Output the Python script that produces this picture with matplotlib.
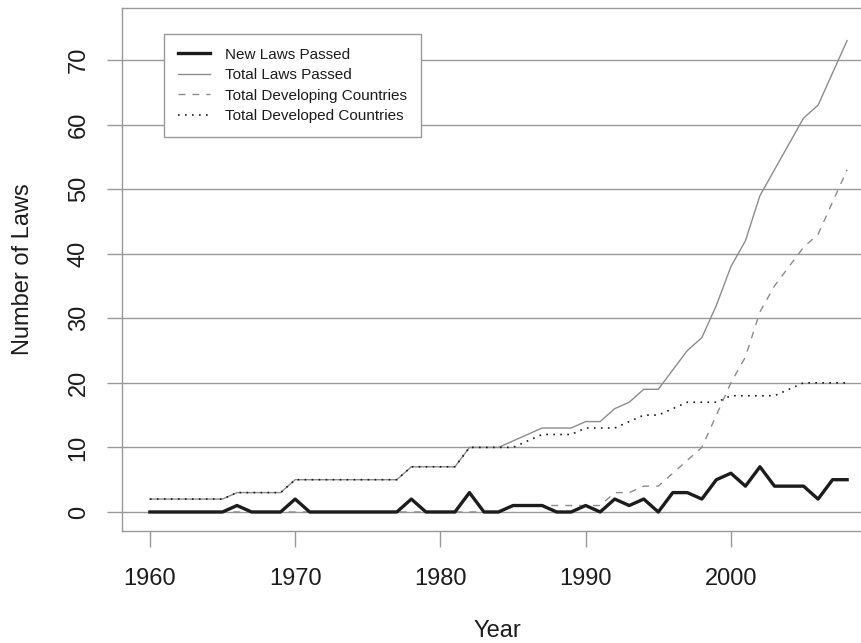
import matplotlib
matplotlib.use("Agg")
import matplotlib.pyplot as plt

# yearly counts
years = list(range(1960, 2009))

new_laws = [0, 0, 0, 0, 0, 0, 1, 0, 0, 0,
            2, 0, 0, 0, 0, 0, 0, 0, 2, 0,
            0, 0, 3, 0, 0, 1, 1, 1, 0, 0,
            1, 0, 2, 1, 2, 0, 3, 3, 2, 5,
            6, 4, 7, 4, 4, 4, 2, 5, 5]

total_laws = [2, 2, 2, 2, 2, 2, 3, 3, 3, 3,
              5, 5, 5, 5, 5, 5, 5, 5, 7, 7,
              7, 7, 10, 10, 10, 11, 12, 13, 13, 13,
              14, 14, 16, 17, 19, 19, 22, 25, 27, 32,
              38, 42, 49, 53, 57, 61, 63, 68, 73]

total_developing = [0, 0, 0, 0, 0, 0, 0, 0, 0, 0,
                    0, 0, 0, 0, 0, 0, 0, 0, 0, 0,
                    0, 0, 0, 0, 0, 1, 1, 1, 1, 1,
                    1, 1, 3, 3, 4, 4, 6, 8, 10, 15,
                    20, 24, 31, 35, 38, 41, 43, 48, 53]

total_developed = [2, 2, 2, 2, 2, 2, 3, 3, 3, 3,
                   5, 5, 5, 5, 5, 5, 5, 5, 7, 7,
                   7, 7, 10, 10, 10, 10, 11, 12, 12, 12,
                   13, 13, 13, 14, 15, 15, 16, 17, 17, 17,
                   18, 18, 18, 18, 19, 20, 20, 20, 20]

x_ticks = [1960, 1970, 1980, 1990, 2000]
y_ticks = [0, 10, 20, 30, 40, 50, 60, 70]

plt.rcParams['font.family'] = ['Liberation Sans', 'DejaVu Sans']
grey = '#999999'
ink = '#1c1c1c'

W, H = 862, 643
fig = plt.figure(figsize=(W / 100, H / 100), dpi=100)
# right edge of the plot box lies outside the image, as in the original
ax = fig.add_axes([122 / W, 1 - 530.7 / H, (875 - 122) / W, (530.7 - 8) / H])

ax.plot(years, new_laws, color=ink, lw=2.4, label='New Laws Passed', zorder=5)
ax.plot(years, total_laws, color='#8c8c8c', lw=1.0, label='Total Laws Passed', zorder=3)
ax.plot(years, total_developing, color='#8c8c8c', lw=1.0, dashes=(5, 5),
        label='Total Developing Countries', zorder=4)
ax.plot(years, total_developed, color=ink, lw=1.2, dashes=(1, 3.2),
        label='Total Developed Countries', zorder=4)

ax.set_xlim(1958.08, 2009.92)
ax.set_ylim(-2.9, 78.05)

ax.set_xticks(x_ticks)
ax.set_yticks(y_ticks)
ax.set_yticklabels([str(v) for v in y_ticks], rotation=90, va='center')
ax.tick_params(axis='x', length=11.5, width=1.0, color=grey, pad=15,
               labelsize=17, labelcolor=ink)
ax.tick_params(axis='y', length=10.8, width=1.0, color=grey, pad=12.5,
               labelsize=17, labelcolor=ink)
ax.grid(axis='y', color=grey, lw=1.0, zorder=1)
ax.set_axisbelow(True)

for side in ['left', 'top', 'bottom', 'right']:
    ax.spines[side].set_color(grey)
    ax.spines[side].set_linewidth(1.0)

fig.text(497 / W, 1 - 631 / H, 'Year', ha='center', va='center',
         fontsize=17, color=ink)
fig.text(23 / W, 1 - 269 / H, 'Number of Laws', ha='center', va='center',
         rotation=90, fontsize=17, color=ink)

leg = ax.legend(loc='upper left', bbox_to_anchor=(164 / W, 1 - 34 / H),
                bbox_transform=fig.transFigure, fontsize=11,
                frameon=True, fancybox=False, framealpha=1,
                handlelength=2.1, handletextpad=1.0, labelspacing=0.42,
                borderpad=0.9, borderaxespad=0)
leg.get_frame().set_edgecolor(grey)
leg.get_frame().set_linewidth(1.0)
for t in leg.get_texts():
    t.set_color(ink)

fig.savefig('out.png', dpi=100)
